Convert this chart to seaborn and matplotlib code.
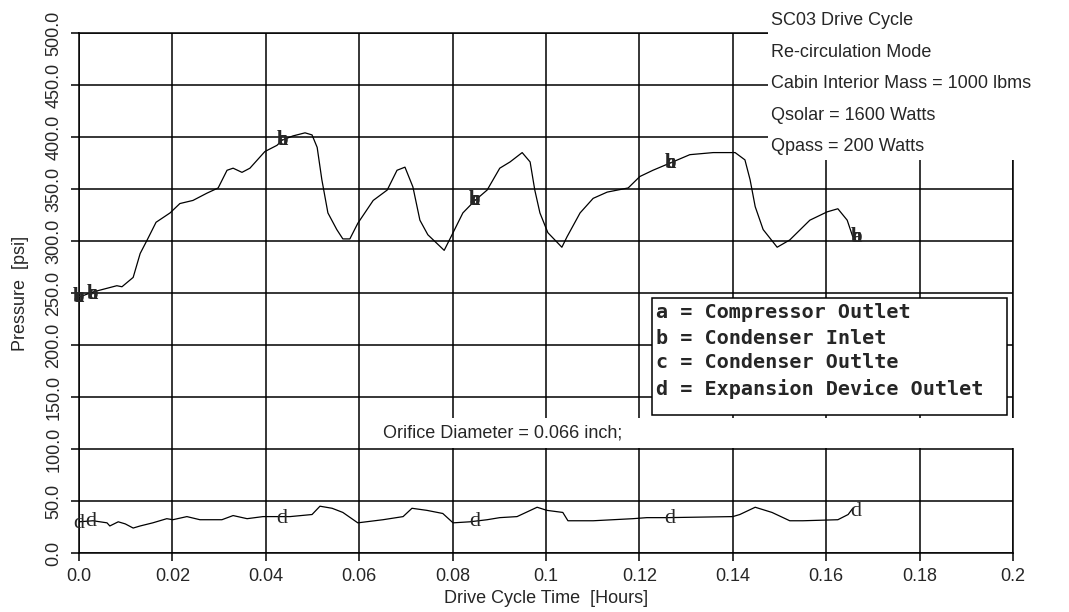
import matplotlib
matplotlib.use("Agg")
import matplotlib.pyplot as plt
import pandas as pd
import seaborn as sns
from matplotlib.patches import Rectangle

# high side pressure (a, b and c lie on top of each other in the source plot)
high_t = [0.0, 0.003, 0.0081, 0.0092, 0.0116, 0.0131, 0.0146, 0.0165, 0.0195, 0.0216,
          0.0244, 0.0274, 0.0298, 0.0317, 0.033, 0.0349, 0.0366, 0.0398, 0.0424, 0.0435,
          0.0458, 0.0484, 0.0499, 0.051, 0.052, 0.0533, 0.0552, 0.0565, 0.058, 0.0597,
          0.063, 0.066, 0.0681, 0.0698, 0.0715, 0.073, 0.0747, 0.0782, 0.0801, 0.0822,
          0.0848, 0.0874, 0.0901, 0.0923, 0.0949, 0.0966, 0.0976, 0.0987, 0.1004, 0.1034,
          0.1045, 0.1073, 0.1101, 0.1131, 0.1176, 0.1201, 0.1229, 0.1266, 0.1308, 0.1358,
          0.1405, 0.1426, 0.1437, 0.1448, 0.1465, 0.1495, 0.1522, 0.1565, 0.1602, 0.1625,
          0.1645, 0.1657]
high_p = [246, 251, 257, 256, 265, 288, 301, 318, 327, 336,
          339, 346, 351, 368, 370, 366, 370, 386, 392, 397,
          401, 404, 402, 390, 359, 327, 311, 302, 302, 317,
          339, 349, 368, 371, 352, 320, 306, 291, 308, 327,
          339, 349, 370, 376, 385, 376, 349, 327, 308, 294,
          304, 327, 341, 347, 351, 362, 368, 375, 383, 385,
          385, 378, 359, 333, 311, 294, 301, 320, 328, 331,
          320, 304]

# expansion device outlet (d)
exp_t = [0.0, 0.003, 0.006, 0.0066, 0.0084, 0.0099, 0.0116, 0.0131, 0.0158, 0.0188,
         0.0201, 0.0231, 0.0259, 0.0306, 0.033, 0.036, 0.0394, 0.0452, 0.0499, 0.0516,
         0.0542, 0.0565, 0.0597, 0.0651, 0.0694, 0.0713, 0.0745, 0.0779, 0.0801, 0.0837,
         0.0874, 0.0901, 0.0938, 0.0981, 0.1002, 0.1036, 0.1047, 0.1101, 0.1186, 0.1216,
         0.1259, 0.14, 0.1415, 0.1448, 0.1484, 0.1522, 0.155, 0.1625, 0.1647, 0.1657]
exp_p = [30, 31, 29, 26, 30, 28, 24, 26, 29, 33,
         32, 35, 32, 32, 36, 33, 35, 35, 37, 45,
         43, 39, 29, 32, 35, 43, 41, 38, 29, 30,
         32, 34, 35, 44, 41, 39, 31, 31, 33, 34,
         34, 35, 37, 44, 39, 31, 31, 32, 37, 43]

# curve letter labels
abc_label_t = [0.0, 0.0028, 0.0435, 0.0848, 0.1266, 0.1664]
abc_label_p = [246, 249, 397, 339, 375, 304]
d_label_t = [0.0, 0.0026, 0.0435, 0.0848, 0.1266, 0.1664]
d_label_p = [28, 30, 33, 30, 33, 40]

x_ticks = [0.0, 0.02, 0.04, 0.06, 0.08, 0.1, 0.12, 0.14, 0.16, 0.18, 0.2]
x_tick_labels = ["0.0", "0.02", "0.04", "0.06", "0.08", "0.1", "0.12", "0.14", "0.16", "0.18", "0.2"]
y_ticks = [0, 50, 100, 150, 200, 250, 300, 350, 400, 450, 500]
y_tick_labels = ["0.0", "50.0", "100.0", "150.0", "200.0", "250.0", "300.0", "350.0", "400.0", "450.0", "500.0"]

info_lines = ["SC03 Drive Cycle", "Re-circulation Mode", "Cabin Interior Mass = 1000 lbms",
              "Qsolar = 1600 Watts", "Qpass = 200 Watts"]
legend_lines = ["a = Compressor Outlet", "b = Condenser Inlet",
                "c = Condenser Outlte", "d = Expansion Device Outlet"]

sns.set_style("white")
plt.rcParams['font.family'] = ['Liberation Sans', 'DejaVu Sans']

fig = plt.figure(figsize=(10.69, 6.12), dpi=100)
ax = fig.add_axes([0.0739, 0.0964, 0.8737, 0.8497])

df = pd.concat([
    pd.DataFrame({'t': high_t, 'p': high_p, 'curve': 'abc'}),
    pd.DataFrame({'t': exp_t, 'p': exp_p, 'curve': 'd'}),
])
sns.lineplot(data=df, x='t', y='p', hue='curve', palette=['black', 'black'],
             estimator=None, sort=False, legend=False, lw=0.9, ax=ax, zorder=4)

for t, p in zip(abc_label_t, abc_label_p):
    for ch in "abc":
        ax.text(t, p, ch, family='Liberation Serif', fontsize=15, fontweight='bold',
                ha='center', va='center', zorder=5)
for t, p in zip(d_label_t, d_label_p):
    ax.text(t, p, 'd', family='Liberation Serif', fontsize=16, ha='center', va='center', zorder=5)

ax.set_xlim(0, 0.2)
ax.set_ylim(0, 500)
ax.set_xticks(x_ticks)
ax.set_xticklabels(x_tick_labels)
ax.set_yticks(y_ticks)
ax.set_yticklabels(y_tick_labels, rotation=90, va='center')
ax.grid(True, color='black', lw=1.1)
for s in ax.spines.values():
    s.set_color('black')
    s.set_linewidth(1.1)
ax.tick_params(bottom=True, left=True, length=6, width=1.1, color='black',
               labelsize=13, direction='out')
ax.tick_params(axis='y', pad=6)
ax.tick_params(axis='x', pad=5)

ax.set_xlabel("Drive Cycle Time  [Hours]", fontsize=13)
ax.set_ylabel("Pressure  [psi]", fontsize=13)
ax.xaxis.set_label_coords(0.5, -0.072)
ax.yaxis.set_label_coords(-0.053, 0.5)

# white areas that hide the grid behind the annotations
fig.patches.append(Rectangle((0.7184, 0.7386), 0.2816, 0.2614, transform=fig.transFigure,
                             facecolor='white', edgecolor='none', zorder=1))
fig.patches.append(Rectangle((0.3583, 0.268), 0.6417, 0.049, transform=fig.transFigure,
                             facecolor='white', edgecolor='none', zorder=1))
fig.patches.append(Rectangle((0.6099, 0.3219), 0.3321, 0.1912, transform=fig.transFigure,
                             facecolor='white', edgecolor='black', lw=1.1, zorder=1))

info_y = [0.967, 0.915, 0.864, 0.812, 0.761]
for y, line in zip(info_y, info_lines):
    fig.text(0.7213, y, line, fontsize=13, ha='left', va='center', zorder=2)

legend_y = [0.4886, 0.4461, 0.4069, 0.3644]
for y, line in zip(legend_y, legend_lines):
    fig.text(0.6137, y, line, family='DejaVu Sans Mono', fontweight='bold',
             fontsize=14.5, ha='left', va='center', zorder=2)

fig.text(0.3583, 0.2925, "Orifice Diameter = 0.066 inch;", fontsize=13,
         ha='left', va='center', zorder=2)

fig.savefig("out.png", dpi=100)
